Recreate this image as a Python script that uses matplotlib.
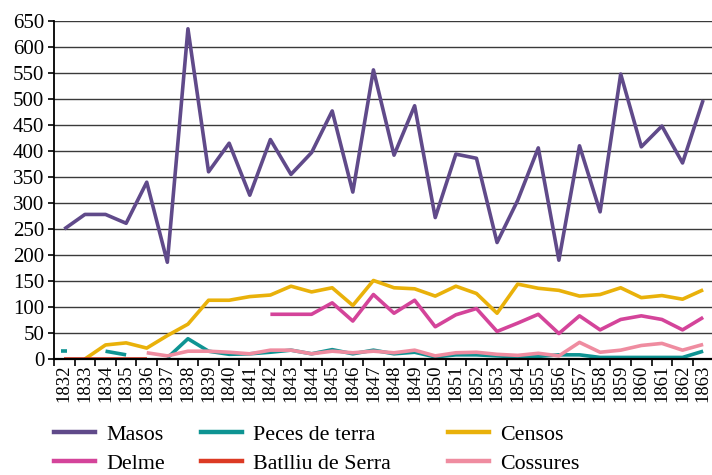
import numpy as np
import matplotlib
matplotlib.use('Agg')
import matplotlib.pyplot as plt
from matplotlib.lines import Line2D

nan = np.nan
years = [str(y) for y in range(1832, 1864)]

masos = [250, 278, 278, 261, 340, 186, 635, 360, 415, 315, 422, 355, 397, 477, 321, 556,
         392, 487, 272, 394, 386, 224, 305, 406, 190, 410, 283, 548, 408, 448, 377, 498]
peces = [15, nan, 15, 8, nan, 2, 39, 15, 9, 10, 13, 17, 10, 18, 10, 17,
         10, 13, 4, 8, 8, 6, 4, 5, 8, 8, 3, 3, 3, 3, 3, 15]
censos = [nan, 0, 27, 31, 21, 45, 67, 113, 113, 120, 123, 140, 129, 137, 103, 151,
          137, 135, 121, 140, 126, 88, 144, 136, 132, 121, 124, 137, 118, 122, 115, 133]
delme = [nan, nan, nan, nan, nan, nan, nan, nan, nan, nan, 86, 86, 86, 108, 73, 124,
         88, 113, 62, 85, 97, 53, 69, 86, 49, 83, 56, 76, 83, 76, 56, 80]
batlliu = [0, 0, 0, 0, 0] + [nan] * 27
cossures = [nan, nan, nan, nan, 12, 6, 15, 15, 13, 10, 17, 17, 10, 15, 12, 15,
            12, 17, 6, 12, 13, 9, 7, 11, 6, 32, 13, 17, 26, 30, 17, 28]

names = ['Masos', 'Peces de terra', 'Censos', 'Delme', 'Batlliu de Serra', 'Cossures']
series = [masos, peces, censos, delme, batlliu, cossures]
colors = ['#604a8a', '#0e9493', '#e9b10a', '#d4449a', '#dc3a24', '#ef8ca0']

plt.rcParams['font.family'] = ['Liberation Serif', 'DejaVu Serif']

fig = plt.figure(figsize=(7.12, 4.75), dpi=100)
ax = fig.add_axes([54 / 712, 1 - 359 / 475, 1 - 54 / 712, 338 / 475])

x = np.arange(len(years))
for vals, c in zip(series, colors):
    v = np.array(vals, dtype=float)
    ax.plot(x, v, color=c, lw=2.6, solid_capstyle='butt', zorder=3)
    # isolated points show as a short dash
    ok = np.isfinite(v)
    prev = np.r_[False, ok[:-1]]
    nxt = np.r_[ok[1:], False]
    lone = ok & ~prev & ~nxt
    if lone.any():
        ax.plot(x[lone], v[lone], ls='none', marker='_', ms=4, mew=2.6, color=c, zorder=3)

ax.set_xlim(-0.5, 31.43)
ax.set_ylim(0, 650)
ax.set_yticks(range(0, 651, 50))
ax.yaxis.grid(True, color='#3a3a3a', lw=1.0)
ax.set_axisbelow(True)
ax.set_xticks(x)
ax.set_xticklabels(years, rotation=90, fontsize=13.5)
ax.set_xticks(np.arange(-0.5, 31.5, 1), minor=True)
ax.tick_params(axis='x', which='major', length=0, pad=4)
ax.tick_params(axis='x', which='minor', length=5, width=1.2, color='black')
ax.tick_params(axis='y', labelsize=15, length=4, width=1.2, pad=3)
for s in ['top', 'right']:
    ax.spines[s].set_visible(False)
ax.spines['left'].set_linewidth(1.3)
ax.spines['bottom'].set_linewidth(1.6)
ax.spines['bottom'].set_zorder(4)

handles = [Line2D([], [], color=c, lw=3.2) for c in colors]
cols = [(0, 3, 54), (1, 4, 201), (2, 5, 448)]
for i, j, px in cols:
    fig.legend([handles[i], handles[j]], [names[i], names[j]], loc='center left',
               bbox_to_anchor=(px / 712, 1 - 449 / 475), frameon=False, fontsize=15.8,
               handlelength=1.87, handletextpad=0.5, labelspacing=0.38, borderpad=0,
               borderaxespad=0)

fig.savefig('out.png', dpi=100)
